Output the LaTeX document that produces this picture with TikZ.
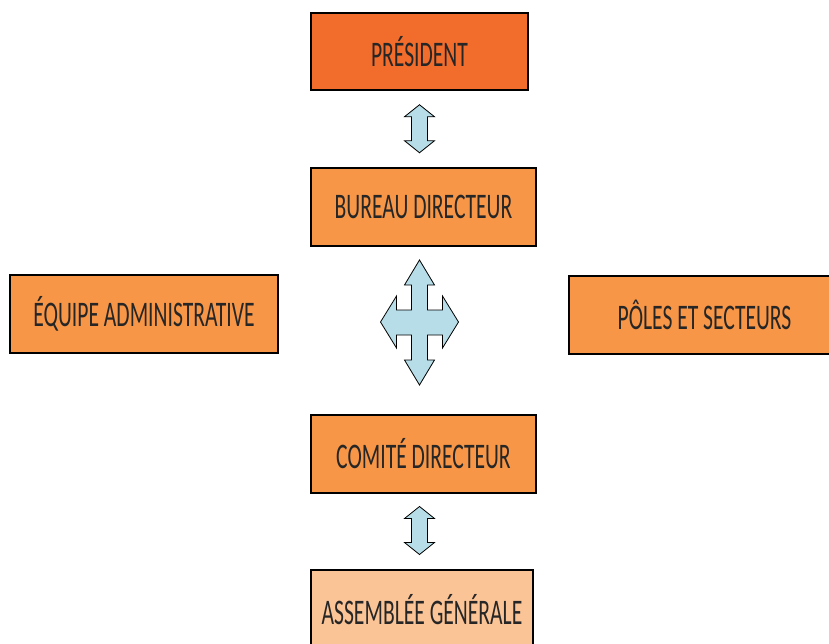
\documentclass[tikz,border=0pt]{standalone}
\usepackage{fontspec}
\setmainfont[FakeStretch=0.6]{Carlito}
\usetikzlibrary{positioning,calc}

\definecolor{presorange}{HTML}{F26C2C}
\definecolor{boxorange}{HTML}{F79646}
\definecolor{agorange}{HTML}{FBC496}
\definecolor{arrowblue}{HTML}{B7DEE8}
\definecolor{textgray}{HTML}{262626}

\tikzset{
every node/.style={draw,line width=2pt,inner sep=0pt,text=textgray,font=\fontsize{36}{36}\selectfont},
style1/.style= {rectangle,fill=presorange,minimum width=217pt,minimum height=77pt},
style2/.style= {rectangle,fill=boxorange,minimum width=225pt,minimum height=78pt},
style3/.style= {rectangle,fill=agorange,minimum width=222pt,minimum height=80pt},
style4/.style= {draw=black,line width=0.8pt,fill=arrowblue,line join=miter}
}

% vertical double arrow around a coordinate
\newcommand\dblarrow[1]{
\draw[style4,shift={(#1)}] (0,-24) -- (15,-12) -- (8,-12) -- (8,12) -- (15,12) -- (0,24)
  -- (-15,12) -- (-8,12) -- (-8,-12) -- (-15,-12) -- cycle;
}

\begin{document}
\begin{tikzpicture}[x=1pt,y=-1pt]
\clip (0,0) rectangle (829,643);

% the boxes
\node[style1] (pres) at (419.5,51.5) {PRÉSIDENT};
\node[style2] (bur) at (423.5,206.5) {BUREAU DIRECTEUR};
\node[style2,minimum width=268pt] (equipe) at (144,314) {ÉQUIPE ADMINISTRATIVE};
\node[style2,minimum width=271pt] (poles) at (704.5,314.5) {PÔLES ET SECTEURS};
\node[style2] (com) at (423.5,454) {COMITÉ DIRECTEUR};
\node[style3] (ag) at (422,610) {ASSEMBLÉE GÉNÉRALE};

% the arrows between the boxes
\coordinate (a1) at ($(pres.south)!.5!(pres.south |- bur.north)$);
\coordinate (a2) at ($(pres.south |- com.south)!.5!(pres.south |- ag.north)+(0,-1)$);
\coordinate (cross) at ($(pres.south |- equipe)+(0,8)$);

\dblarrow{a1}
\dblarrow{a2}

\draw[style4,shift={(cross)}] (0,-62) -- (15,-37) -- (8,-37) -- (8,-12) -- (23,-12) -- (23,-26)
  -- (39,0) -- (23,26) -- (23,13) -- (8,13) -- (8,38) -- (15,38) -- (0,63) -- (-15,38)
  -- (-8,38) -- (-8,13) -- (-23,13) -- (-23,26) -- (-39,0) -- (-23,-26) -- (-23,-12)
  -- (-8,-12) -- (-8,-37) -- (-15,-37) -- cycle;
\end{tikzpicture}
\end{document}
